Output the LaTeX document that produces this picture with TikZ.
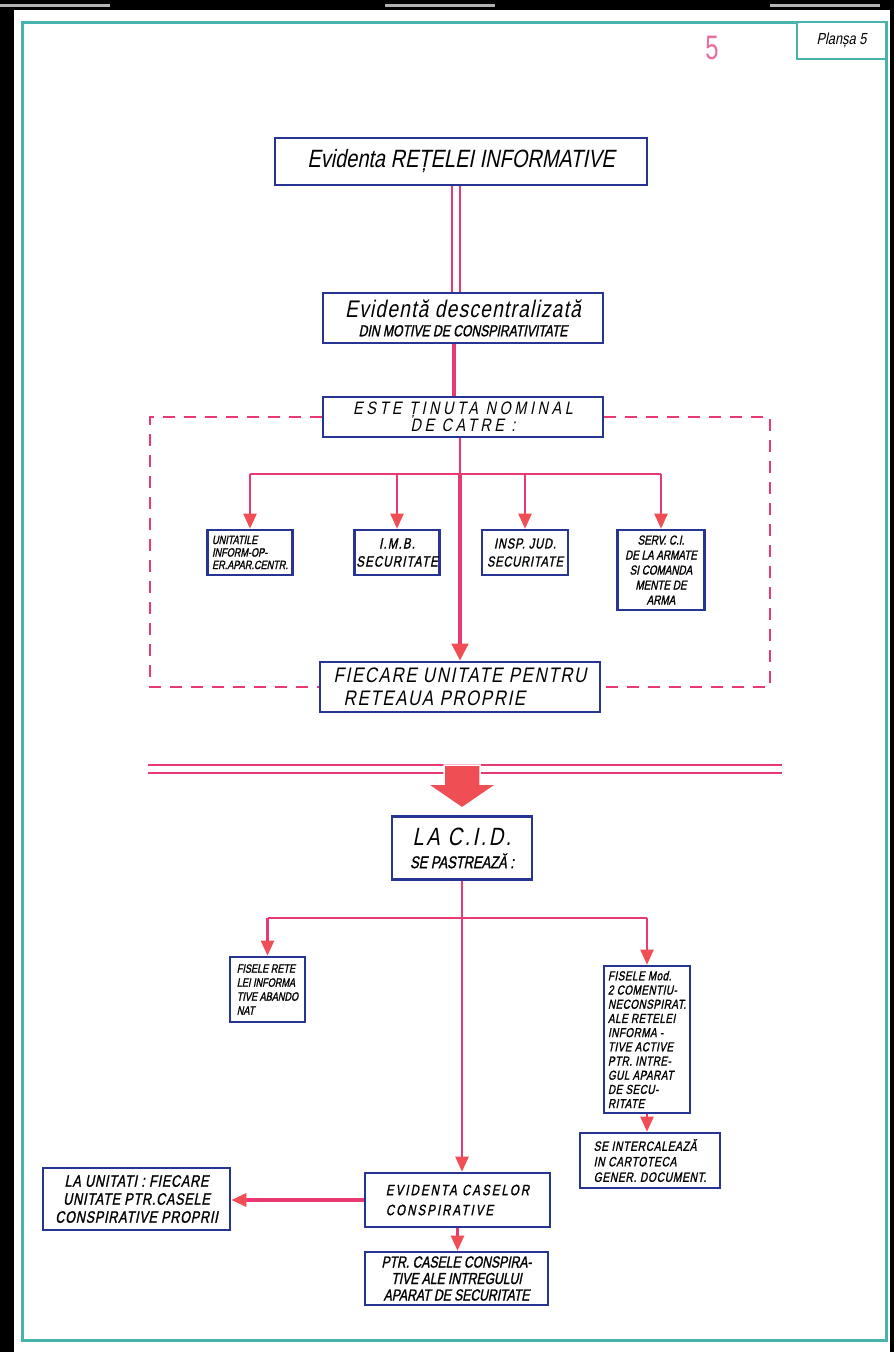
\documentclass[tikz,border=0pt]{standalone}
\usepackage{fontspec}
\newfontfamily\hand[FakeStretch=0.8,FakeSlant=0.2]{Liberation Sans}
\newfontfamily\handb[FakeStretch=0.76,FakeSlant=0.2,FakeBold=1.3]{Liberation Sans}
\newfontfamily\handu[FakeStretch=0.7]{Liberation Sans}
\usetikzlibrary{arrows.meta,calc}
\newcommand{\fsz}[2]{\fontsize{#1}{#2}\selectfont}
\newcommand{\lsp}[1]{\addfontfeature{LetterSpace=#1}}
\definecolor{boxblue}{RGB}{40,52,148}
\definecolor{linkred}{RGB}{232,58,112}
\definecolor{headred}{RGB}{238,78,84}
\definecolor{tealc}{RGB}{70,180,172}
\definecolor{pinkc}{RGB}{232,110,160}
\tikzset{
  box/.style={draw=boxblue, line width=2.6pt, fill=white, inner sep=1pt, align=center, text=black},
  link/.style={draw=linkred, line width=2.2pt},
  arr/.style={link, -{Triangle[length=15pt,width=13pt,color=headred]}},
  thickarr/.style={draw=linkred, line width=4.5pt, -{Triangle[length=17pt,width=16pt,color=headred]}},
  dashln/.style={draw=linkred, line width=2.6pt, dash pattern=on 12pt off 9pt},
}
\begin{document}
\begin{tikzpicture}[x=1pt,y=-1pt]
\useasboundingbox (0,0) rectangle (894,1352);
\fill[black] (0,0) rectangle (894,1352);
\fill[gray!60] (0,4) rectangle (110,7);
\fill[gray!60] (385,4) rectangle (495,7);
\fill[gray!60] (770,4) rectangle (880,7);
\fill[white] (14,10) rectangle (890,1352);
\draw[tealc, line width=3pt] (22,22) rectangle (886,1340);
\node[draw=tealc, line width=2.5pt, fill=white, minimum width=89pt, minimum height=37pt, inner sep=0pt, font=\hand\fsz{16}{17}] (pl) at (841.5,40.5) {Planșa 5};
\node[text=pinkc, font=\handu\fsz{34}{34}, inner sep=0pt] (five) at (712,48) {5};

% top part
\node[box, minimum width=372pt, minimum height=47pt, font=\hand\fsz{25}{27}] (t1) at (461,161.5) {Evidenta REȚELEI INFORMATIVE};
\node[box, minimum width=280pt, minimum height=50pt, font=\handb\fsz{16}{16}] (t2) at (463,318) {{\hand\fsz{24}{22}\lsp{5}Evidentă descentralizată}\\[3pt]DIN MOTIVE DE CONSPIRATIVITATE};
\node[box, minimum width=280pt, minimum height=40pt, inner sep=0pt, font=\hand\fsz{18}{17}\lsp{20}] (t3) at (463,417) {ESTE ȚINUTA NOMINAL\\DE CATRE :};
\node[box, minimum width=280pt, minimum height=50pt, align=left, font=\hand\fsz{21}{23}\lsp{8}] (fiec) at (460,687) {FIECARE UNITATE PENTRU\\\hspace*{10pt}RETEAUA PROPRIE};

\node[box, minimum width=85pt, minimum height=45pt, align=left, font=\handb\fsz{12}{12.5}] (b1) at (250,552.5) {UNITATILE\\INFORM-OP-\\ER.APAR.CENTR.};
\node[box, minimum width=85pt, minimum height=45pt, font=\handb\fsz{15}{18}\lsp{8}] (b2) at (397,552.5) {I.M.B.\\SECURITATE};
\node[box, minimum width=86pt, minimum height=45pt, font=\handb\fsz{14.5}{18}\lsp{6}] (b3) at (525,552.5) {INSP. JUD.\\SECURITATE};
\node[box, minimum width=87pt, minimum height=80pt, font=\handb\fsz{13}{15}] (b4) at (661,570) {SERV. C.I.\\DE LA ARMATE\\SI COMANDA\\MENTE DE\\ARMA};

% connectors top
\draw[link, line width=1.6pt] ([xshift=-9pt]t1.south) -- ([xshift=-9pt]t1.south |- t2.north);
\draw[link, line width=1.6pt] ([xshift=-1pt]t1.south) -- ([xshift=-1pt]t1.south |- t2.north);
\draw[link, line width=3.2pt] ([xshift=-9pt]t2.south) -- ([xshift=-9pt]t2.south |- t3.north);
\coordinate (bus) at (460,474);
\coordinate (dl) at (150,0);
\coordinate (dr) at (770,0);
\draw[dashln] (t3.west) -- (t3.west -| dl) -- (fiec.west -| dl) -- (fiec.west);
\draw[dashln] (t3.east) -- (t3.east -| dr) -- (fiec.east -| dr) -- (fiec.east);
\draw[link] (t3.south -| bus) -- (bus);
\draw[link] (b1.north |- bus) -- (b4.north |- bus);
\draw[arr] (b1.north |- bus) -- (b1.north);
\draw[arr] (b2.north |- bus) -- (b2.north);
\draw[arr] (b3.north |- bus) -- (b3.north);
\draw[arr] (b4.north |- bus) -- (b4.north);
\draw[thickarr] (bus) -- (fiec.north -| bus);

% separator
\coordinate (hl) at (148,765);
\coordinate (hr) at (782,765);
\draw[linkred, line width=2.2pt] (hl) -- (hr);
\draw[linkred, line width=2.2pt] ([yshift=-8pt]hl) -- ([yshift=-8pt]hr);
\coordinate (ba) at (462,765);
\fill[headred, draw=white, line width=1.5pt] ($(ba)+(-18,0)$) -- ($(ba)+(18,0)$) -- ($(ba)+(18,19)$) -- ($(ba)+(35,19)$) -- ($(ba)+(0,43)$) -- ($(ba)+(-35,19)$) -- ($(ba)+(-18,19)$) -- cycle;

% lower part
\node[box, minimum width=140pt, minimum height=63pt, font=\handb\fsz{17}{18}] (cid) at (462,848) {{\hand\fsz{25}{24}\lsp{10}LA C.I.D.}\\[5pt]SE PASTREAZĂ :};
\node[box, minimum width=75pt, minimum height=65pt, align=left, font=\handb\fsz{12}{14}] (fr) at (267.5,989.5) {FISELE RETE\\LEI INFORMA\\TIVE ABANDO\\NAT};
\node[box, minimum width=86pt, minimum height=147pt, align=left, font=\handb\fsz{13}{14.2}\lsp{4}] (fm) at (647,1039.5) {FISELE Mod.\\2 COMENTIU-\\NECONSPIRAT.\\ALE RETELEI\\INFORMA -\\TIVE ACTIVE\\PTR. INTRE-\\GUL APARAT\\DE SECU-\\RITATE};
\node[box, minimum width=140pt, minimum height=55pt, align=left, font=\handb\fsz{13.5}{15.5}\lsp{5}] (se) at (650,1160.5) {SE INTERCALEAZĂ\\IN CARTOTECA\\GENER. DOCUMENT.};
\node[box, minimum width=185pt, minimum height=54pt, align=left, font=\handb\fsz{15}{20}\lsp{14}] (evid) at (457.5,1200) {EVIDENTA CASELOR\\CONSPIRATIVE};
\node[box, minimum width=187pt, minimum height=62pt, font=\handb\fsz{16.5}{18}\lsp{5}] (lau) at (136.5,1199) {LA UNITATI : FIECARE\\UNITATE PTR.CASELE\\CONSPIRATIVE PROPRII};
\node[box, minimum width=183pt, minimum height=53pt, font=\handb\fsz{16}{16.5}] (ptr) at (456.5,1278.5) {PTR. CASELE CONSPIRA-\\TIVE ALE INTREGULUI\\APARAT DE SECURITATE};

\coordinate (bus2) at (462,918);
\draw[arr] (cid.south) -- (cid.south |- evid.north);
\draw[link] (fr.north |- bus2) -- (fm.north |- bus2);
\draw[arr] (fr.north |- bus2) -- (fr.north);
\draw[arr] (fm.north |- bus2) -- (fm.north);
\draw[arr] (fm.south) -- (fm.south |- se.north);
\draw[arr, line width=3.2pt] (evid.west) -- (evid.west -| lau.east);
\draw[arr] (evid.south) -- (evid.south |- ptr.north);
\end{tikzpicture}
\end{document}
